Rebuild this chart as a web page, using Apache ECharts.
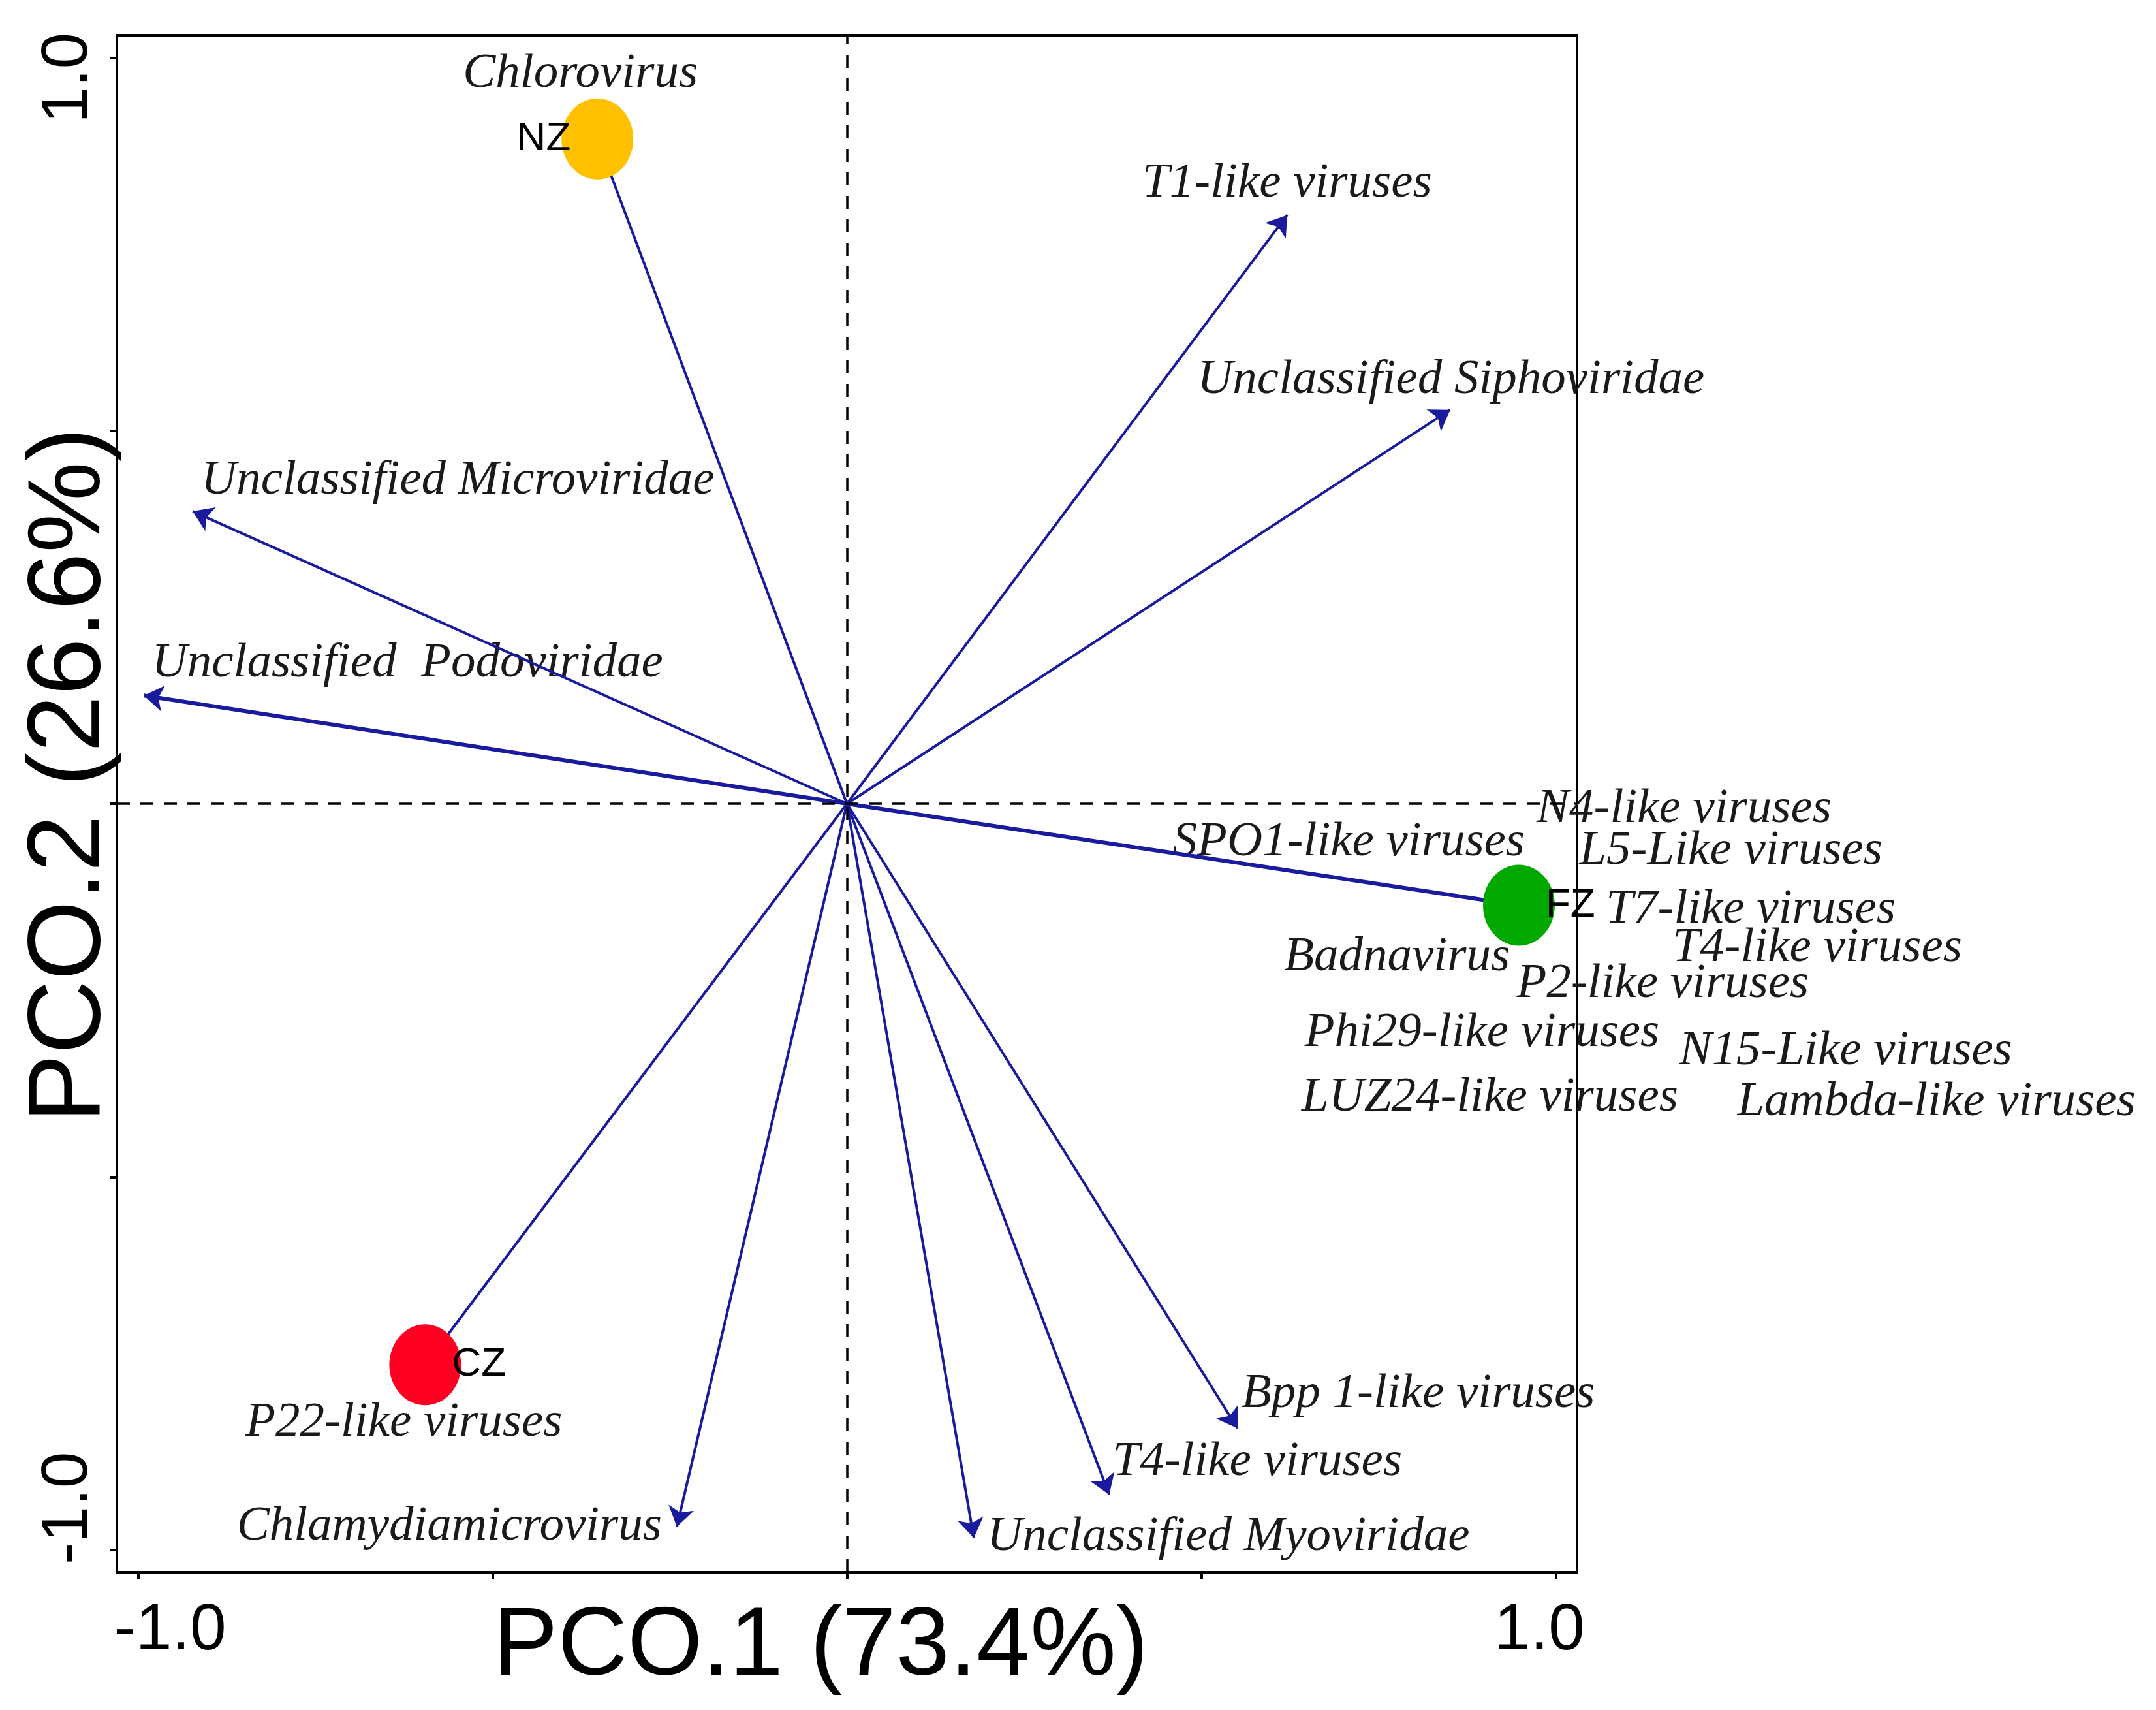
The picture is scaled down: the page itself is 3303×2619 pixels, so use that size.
<!DOCTYPE html>
<html>
<head>
<meta charset="utf-8">
<title>PCO biplot</title>
<script src="https://cdn.jsdelivr.net/npm/echarts@6.0.0/dist/echarts.min.js"></script>
<style>
    html, body { margin: 0; padding: 0; background: #fff; }
    #chart { width: 3303px; height: 2619px; }
</style>
</head>
<body>
<div id="chart"></div>
<script>
    // virus vectors that show an arrow head (PCO.1, PCO.2)
    const vecNames = ['T1-like viruses', 'Unclassified Siphoviridae', 'Unclassified Microviridae', 'Unclassified Podoviridae',
        'Bpp 1-like viruses', 'T4-like viruses', 'Unclassified Myoviridae', 'Chlamydiamicrovirus']
    const vecX = [0.621, 0.851, -0.923, -0.992, 0.551, 0.370, 0.179, -0.240]
    const vecY = [0.789, 0.528, 0.392, 0.145, -0.837, -0.926, -0.984, -0.969]

    // sampling sites
    const siteNames = ['NZ', 'FZ', 'CZ']
    const siteX = [-0.352, 0.948, -0.595]
    const siteY = [0.891, -0.136, -0.752]

    // virus names and where the centre of each name sits (axis units)
    const labelNames = ['Chlorovirus', 'T1-like viruses', 'Unclassified Siphoviridae', 'Unclassified Microviridae',
        'Unclassified  Podoviridae', 'N4-like viruses', 'SPO1-like viruses', 'L5-Like viruses', 'T7-like viruses',
        'T4-like viruses', 'Badnavirus', 'P2-like viruses', 'Phi29-like viruses', 'N15-Like viruses',
        'LUZ24-like viruses', 'Lambda-like viruses', 'Bpp 1-like viruses', 'T4-like viruses',
        'Unclassified Myoviridae', 'Chlamydiamicrovirus', 'P22-like viruses']
    const labelX = [-0.376, 0.621, 0.852, -0.549, -0.620, 1.181, 0.708, 1.247, 1.275, 1.369, 0.776, 1.151, 0.896,
        1.409, 0.907, 1.537, 0.806, 0.579, 0.538, -0.561, -0.625]
    const labelY = [0.978, 0.831, 0.568, 0.433, 0.188, -0.007, -0.052, -0.063, -0.142, -0.194, -0.206, -0.242,
        -0.307, -0.332, -0.394, -0.400, -0.791, -0.882, -0.983, -0.969, -0.830]

    const axisTicks = [-1, -0.5, 0, 0.5, 1]
    const axisLabels = [-1, 1]

    const siteColors = {NZ: '#ffc000', FZ: '#00a800', CZ: '#ff0022'}
    const siteLabelPos = {NZ: 'left', FZ: 'right', CZ: 'right'}
    const arrowColor = '#1a1a9e'

    let chart = echarts.init(document.getElementById('chart'))

    // arrows from origin
    let vecLines = vecNames.map((n, i) => ({
        name: n,
        coords: [[0, 0], [vecX[i], vecY[i]]],
        lineStyle: {width: n === 'Unclassified Podoviridae' ? 6 : 4}
    }))
    let siteLines = siteNames.map((n, i) => ({
        name: n,
        coords: [[0, 0], [siteX[i], siteY[i]]],
        lineStyle: {width: n === 'FZ' ? 6 : 4}
    }))

    const tickLabelFont = {fontFamily: 'Liberation Sans', fontSize: 100, color: '#000'}

    let option = {
        backgroundColor: '#fff',
        animation: false,
        grid: {
            left: 179, right: 887, top: 54, bottom: 211,
            show: true, borderColor: '#000', borderWidth: 4,
            outerBoundsMode: 'none'
        },
        xAxis: {
            type: 'value',
            min: -1.03,
            max: 1.03,
            splitLine: {show: false},
            axisLine: {show: true, onZero: false, lineStyle: {color: '#000', width: 4}},
            axisTick: {show: true, customValues: axisTicks, length: 10, lineStyle: {color: '#000', width: 4}},
            axisLabel: {
                customValues: axisLabels,
                margin: 40,
                formatter: v => v < 0 ? '{n|-1.0}' : '{p|1.0}',
                rich: {
                    n: Object.assign({padding: [0, 0, 0, 98]}, tickLabelFont),
                    p: Object.assign({padding: [0, 50, 0, 0]}, tickLabelFont)
                }
            },
            name: 'PCO.1 (73.4%)',
            nameLocation: 'middle',
            nameGap: 42,
            nameMoveOverlap: false,
            nameTextStyle: {fontFamily: 'Liberation Sans', fontSize: 148, color: '#000', padding: [0, 80, 0, 0]}
        },
        yAxis: {
            type: 'value',
            min: -1.03,
            max: 1.03,
            splitLine: {show: false},
            axisLine: {show: true, onZero: false, lineStyle: {color: '#000', width: 4}},
            axisTick: {show: true, customValues: axisTicks, length: 10, lineStyle: {color: '#000', width: 4}},
            axisLabel: {
                customValues: axisLabels,
                rotate: 90,
                margin: 24,
                formatter: v => v < 0 ? '{n|-1.0}' : '{p|1.0}',
                rich: {
                    n: Object.assign({padding: [0, 0, 0, 128]}, tickLabelFont),
                    p: Object.assign({padding: [0, 62, 0, 0]}, tickLabelFont)
                }
            },
            name: 'PCO.2 (26.6%)',
            nameLocation: 'middle',
            nameGap: -8,
            nameMoveOverlap: false,
            nameTextStyle: {fontFamily: 'Liberation Sans', fontSize: 157, color: '#000', padding: [0, 0, 0, 88]}
        },
        series: [
            {
                // virus names, plus the dashed zero lines
                type: 'scatter',
                z: 1,
                clip: false,
                silent: true,
                symbolSize: 1,
                itemStyle: {color: 'transparent', opacity: 1},
                label: {
                    show: true,
                    position: 'inside',
                    align: 'center',
                    verticalAlign: 'middle',
                    formatter: p => p.name,
                    fontFamily: 'Liberation Serif',
                    fontStyle: 'italic',
                    fontSize: 75,
                    color: '#1a1a1a'
                },
                data: labelNames.map((n, i) => ({name: n, value: [labelX[i], labelY[i]]})),
                markLine: {
                    silent: true,
                    symbol: 'none',
                    label: {show: false},
                    lineStyle: {type: [20, 16], color: '#000', width: 3.5, opacity: 1},
                    data: [{xAxis: 0}, {yAxis: 0}]
                }
            },
            {
                type: 'lines',
                coordinateSystem: 'cartesian2d',
                z: 2,
                silent: true,
                symbol: ['none', 'arrow'],
                symbolSize: 30,
                lineStyle: {color: arrowColor, width: 4, opacity: 1, curveness: 0},
                data: vecLines
            },
            {
                type: 'lines',
                coordinateSystem: 'cartesian2d',
                z: 2,
                silent: true,
                symbol: 'none',
                lineStyle: {color: arrowColor, width: 4, opacity: 1, curveness: 0},
                data: siteLines
            },
            {
                type: 'scatter',
                z: 3,
                silent: true,
                symbol: 'circle',
                symbolSize: [110, 124],
                data: siteNames.map((n, i) => ({
                    name: n,
                    value: [siteX[i], siteY[i]],
                    itemStyle: {color: siteColors[n], opacity: 1},
                    label: {position: siteLabelPos[n]}
                })),
                label: {
                    show: true,
                    distance: -14,
                    formatter: p => p.name,
                    fontFamily: 'Liberation Sans',
                    fontSize: 62,
                    color: '#000'
                }
            }
        ]
    }

    chart.setOption(option)
</script>
</body>
</html>
